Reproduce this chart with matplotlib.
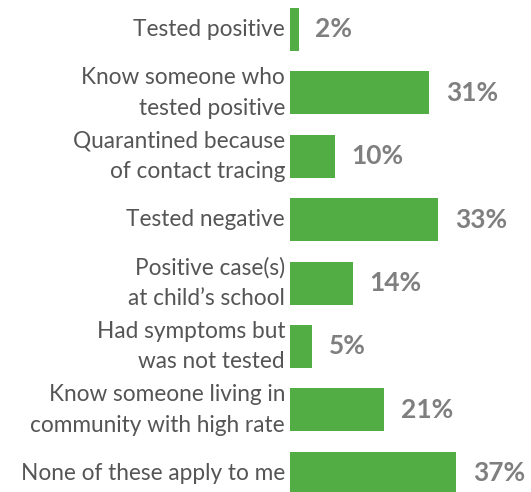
import matplotlib
matplotlib.use('Agg')
import matplotlib.pyplot as plt
import numpy as np

# categorias e valores (%)
categorias = ['Tested positive',
              'Know someone who\ntested positive',
              'Quarantined because\nof contact tracing',
              'Tested negative',
              'Positive case(s)\nat child\u2019s school',
              'Had symptoms but\nwas not tested',
              'Know someone living in\ncommunity with high rate',
              'None of these apply to me']
valores = [2, 31, 10, 33, 14, 5, 21, 37]

verde = '#52AE44'
cinza_texto = '#555555'
cinza_valor = '#7F7F7F'

plt.rcParams['font.family'] = ['Lato', 'DejaVu Sans']

fig = plt.figure(figsize=(5.31, 4.92), dpi=100)
ax = fig.add_axes([289.5/531, 0, 1 - 289.5/531, 1])

y = np.arange(len(categorias))
ax.barh(y, valores, height=0.678, color=verde)

ax.set_xlim(0, (531 - 289.5)/4.51)
ax.set_ylim(7.295, -0.465)

ax.set_yticks(y)
ax.set_yticklabels(categorias, fontsize=16.3, color=cinza_texto,
                   linespacing=1.55, va='center')
ax.tick_params(axis='y', length=0, pad=3.2)
ax.set_xticks([])
for s in ax.spines.values():
    s.set_visible(False)

# rotulos de valor
for i, v in enumerate(valores):
    ax.text(v + 3.7, i, f'{v}%', va='center', ha='left',
            fontsize=19, fontweight='bold', color=cinza_valor)

fig.savefig('out.png', dpi=100)
